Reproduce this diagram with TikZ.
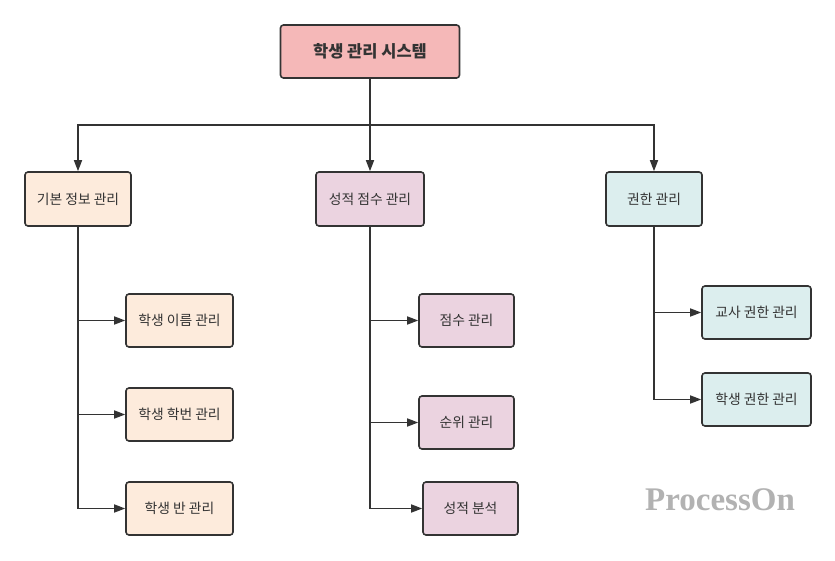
\documentclass[tikz,border=0pt]{standalone}
\usepackage{fontspec}
\setmainfont{Noto Sans CJK KR}
\setsansfont{Liberation Serif}
\usetikzlibrary{arrows.meta}
\definecolor{LineGray}{HTML}{333333}
\definecolor{RootFill}{HTML}{F5B8B8}
\definecolor{InfoFill}{HTML}{FDEBDC}
\definecolor{ScoreFill}{HTML}{EBD3E0}
\definecolor{AuthFill}{HTML}{DCEEEE}
\definecolor{MarkGray}{HTML}{B2B2B2}
\tikzset{
    box/.style={
        draw=LineGray, line width=1.6pt, rounded corners=3pt,
        inner sep=0pt, align=center, font=\fontsize{13.8}{16}\selectfont,
        text=LineGray
    },
    link/.style={draw=LineGray, line width=1.6pt},
    arrow link/.style={link, -{Triangle[length=11pt, width=8pt]}}
}

\begin{document}
\begin{tikzpicture}[x=1pt, y=-1pt]

    \useasboundingbox (0,0) rectangle (835,561);

    % Wurzel
    \node[box, fill=RootFill, minimum width=179pt, minimum height=53pt,
        font=\bfseries\fontsize{16.5}{19}\selectfont] (root) at (370,51.5) {학생 관리 시스템};

    % Erste Ebene
    \node[box, fill=InfoFill, minimum width=106pt, minimum height=54pt] (info) at (78,199) {기본 정보 관리};
    \node[box, fill=ScoreFill, minimum width=108pt, minimum height=54pt] (score) at (370,199) {성적 점수 관리};
    \node[box, fill=AuthFill, minimum width=96pt, minimum height=54pt] (auth) at (654,199) {권한 관리};

    % Zweite Ebene
    \node[box, fill=InfoFill, minimum width=107pt, minimum height=53pt] (name) at (179.5,320.5) {학생 이름 관리};
    \node[box, fill=InfoFill, minimum width=107pt, minimum height=53pt] (number) at (179.5,414.5) {학생 학번 관리};
    \node[box, fill=InfoFill, minimum width=107pt, minimum height=53pt] (class) at (179.5,508.5) {학생 반 관리};

    \node[box, fill=ScoreFill, minimum width=95pt, minimum height=53pt] (points) at (466.5,320.5) {점수 관리};
    \node[box, fill=ScoreFill, minimum width=95pt, minimum height=53pt] (rank) at (466.5,422.5) {순위 관리};
    \node[box, fill=ScoreFill, minimum width=95pt, minimum height=53pt] (analysis) at (470.5,508.5) {성적 분석};

    \node[box, fill=AuthFill, minimum width=109pt, minimum height=53pt] (teacher) at (756.5,312.5) {교사 권한 관리};
    \node[box, fill=AuthFill, minimum width=109pt, minimum height=53pt] (student) at (756.5,399.5) {학생 권한 관리};

    % Verbindungen von oben
    \coordinate (bus) at (370,125);
    \draw[link] (root.south) -- (bus);
    \draw[arrow link] (bus) -| (info.north);
    \draw[arrow link] (bus) -- (score.north);
    \draw[arrow link] (bus) -| (auth.north);

    % Verbindungen nach unten
    \draw[arrow link] (info.south) |- (name.west);
    \draw[arrow link] (info.south) |- (number.west);
    \draw[arrow link] (info.south) |- (class.west);

    \draw[arrow link] (score.south) |- (points.west);
    \draw[arrow link] (score.south) |- (rank.west);
    \draw[arrow link] (score.south) |- (analysis.west);

    \draw[arrow link] (auth.south) |- (teacher.west);
    \draw[arrow link] (auth.south) |- (student.west);

    % Wasserzeichen
    \node[text=MarkGray, font=\sffamily\bfseries\fontsize{33}{36}\selectfont] (mark) at (720,500) {ProcessOn};

\end{tikzpicture}
\end{document}
